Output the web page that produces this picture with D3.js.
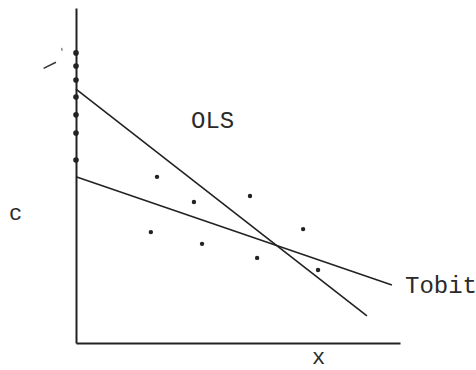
<!DOCTYPE html>
<html>
<head>
<meta charset="utf-8">
<script src="https://cdn.jsdelivr.net/npm/d3@7"></script>
<style>
  body { margin: 0; background: #fff; }
  text { font-family: "Liberation Mono", "DejaVu Sans Mono", monospace; fill: #2a2a2a; }
</style>
</head>
<body>
<script>
// data (arbitrary units 0..10)
var censoredY = [8.66, 8.27, 7.85, 7.34, 6.81, 6.27, 5.46];   // points sitting on x = 0
var pointX = [2.50, 3.64, 5.37, 2.31, 3.89, 5.59, 7.01, 7.47];
var pointY = [4.96, 4.21, 4.39, 3.31, 2.96, 2.54, 3.40, 2.18];
var olsLine = [[0, 7.58], [8.98, 0.81]];
var tobitLine = [[0, 4.96], [9.75, 1.73]];
var lineNames = ["OLS", "Tobit"];

var w = 476, h = 370;
var svg = d3.select("body").append("svg")
  .attr("width", w)
  .attr("height", h);

var x = d3.scaleLinear().domain([0, 10]).range([76, 400]);
var y = d3.scaleLinear().domain([0, 10]).range([343, 8]);

// axes (no ticks, just the two lines)
svg.append("g")
  .attr("transform", "translate(0," + y(0) + ")")
  .call(d3.axisBottom(x).tickValues([]).tickSizeOuter(0))
  .select(".domain").attr("stroke", "#222").attr("stroke-width", 2);
svg.append("g")
  .attr("transform", "translate(" + x(0) + ",0)")
  .call(d3.axisLeft(y).tickValues([]).tickSizeOuter(0))
  .select(".domain").attr("stroke", "#222").attr("stroke-width", 2);

// fitted lines
var line = d3.line().x(function (d) { return x(d[0]); }).y(function (d) { return y(d[1]); });
svg.selectAll("path.fit")
  .data([olsLine, tobitLine])
  .enter()
  .append("path")
  .attr("class", "fit")
  .attr("d", line)
  .attr("fill", "none")
  .attr("stroke", "#222")
  .attr("stroke-width", 1.6);

// observations
svg.selectAll("circle.obs")
  .data(pointX)
  .enter()
  .append("circle")
  .attr("class", "obs")
  .attr("cx", function (d) { return x(d); })
  .attr("cy", function (d, i) { return y(pointY[i]); })
  .attr("r", 2.2)
  .attr("fill", "#222");

// censored observations on the axis
svg.selectAll("circle.cens")
  .data(censoredY)
  .enter()
  .append("circle")
  .attr("class", "cens")
  .attr("cx", x(0))
  .attr("cy", function (d) { return y(d); })
  .attr("r", 2.8)
  .attr("fill", "#222");

// small pen marks near the axis top
svg.append("line")
  .attr("x1", x(-1.0)).attr("y1", y(8.2))
  .attr("x2", x(-0.62)).attr("y2", y(8.38))
  .attr("stroke", "#333").attr("stroke-width", 1.5);
svg.append("line")
  .attr("x1", x(-0.44)).attr("y1", y(8.81))
  .attr("x2", x(-0.43)).attr("y2", y(8.72))
  .attr("stroke", "#555").attr("stroke-width", 1);

// labels
svg.append("text").text(lineNames[0])
  .attr("x", 191).attr("y", 128)
  .attr("font-size", "24px");
svg.append("text").text(lineNames[1])
  .attr("x", 405).attr("y", 293)
  .attr("font-size", "24px");
svg.append("text").text("c")
  .attr("x", 9).attr("y", 220)
  .attr("font-size", "22px");
svg.append("text").text("x")
  .attr("x", 312).attr("y", 364)
  .attr("font-size", "22px");
</script>
</body>
</html>
